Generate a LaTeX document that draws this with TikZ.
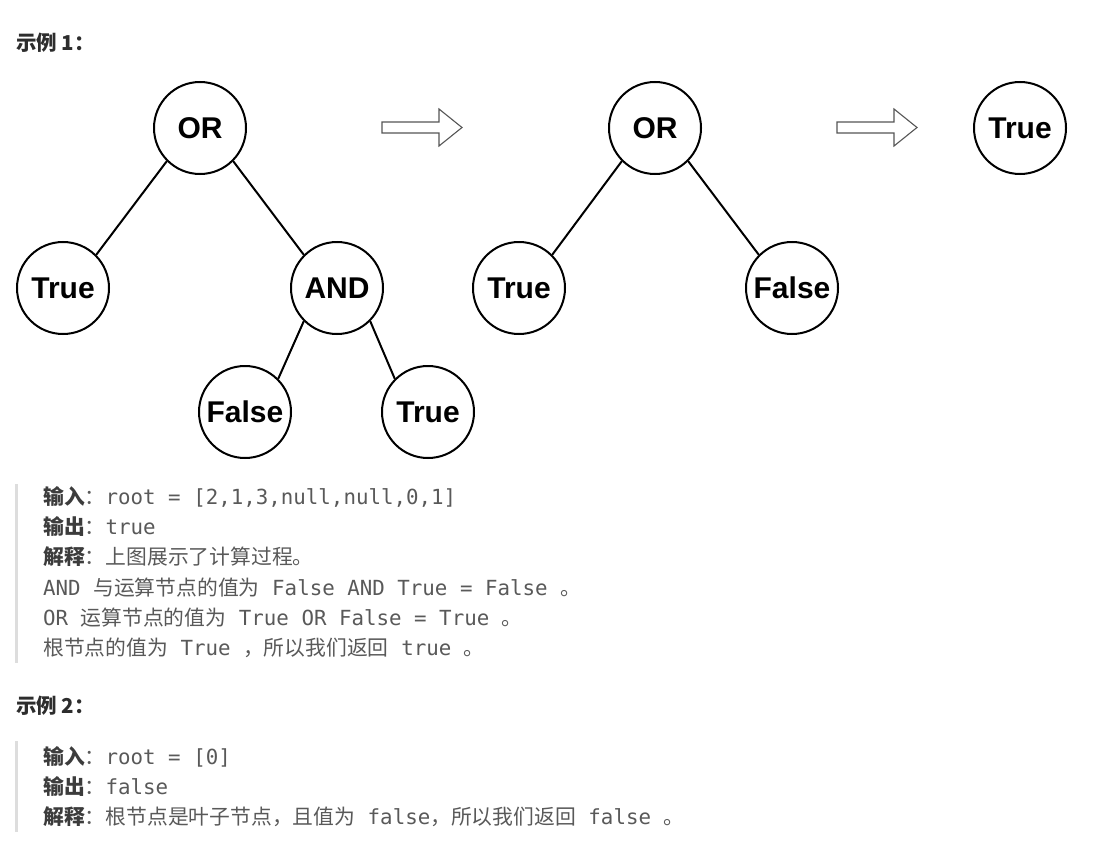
\documentclass[tikz,border=0pt]{standalone}
\usepackage{fontspec}
\setmainfont{Liberation Sans}
\newfontfamily\nodefont{Liberation Sans}
\newfontfamily\cjk{Noto Sans CJK SC}
\newfontfamily\mono{DejaVu Sans Mono}
\definecolor{txt}{RGB}{89,89,89}
\definecolor{lblc}{RGB}{60,60,60}
\definecolor{headc}{RGB}{45,45,45}
\definecolor{barc}{RGB}{221,221,221}
\definecolor{arrc}{RGB}{85,85,85}
\newcommand\zhb[1]{{\cjk\bfseries\color{lblc}#1}}
\newcommand\zh[1]{{\cjk\color{txt}#1}}
\newcommand\mn[1]{{\mono\color{txt}#1}}
\tikzset{
  tnode/.style={circle,draw,line width=2pt,minimum size=92pt,inner sep=0pt,
    font=\nodefont\bfseries\fontsize{30}{30}\selectfont},
  tedge/.style={line width=2pt},
  line/.style={anchor=base west,inner sep=0pt,font=\fontsize{20.8}{24}\selectfont},
  head/.style={anchor=base west,inner sep=0pt,text=headc,font=\cjk\bfseries\fontsize{20.5}{24}\selectfont},
  blockarrow/.pic={\draw[arrc,line width=1.1pt,fill=white,line join=miter]
     (0,-5.5) -- (57,-5.5) -- (57,-18.5) -- (80,0) -- (57,18.5) -- (57,5.5) -- (0,5.5) -- cycle;}
}
\begin{document}
\begin{tikzpicture}[x=1pt,y=-1pt]
\useasboundingbox (0,0) rectangle (1099,845);
% headings
\node[head] (h1) at (16,51) {示例 1：};
\node[head] (h2) at (16,713) {示例 2：};
% tree 1
\node[tnode] (or1) at (200,128) {OR};
\node[tnode] (t1) at (63,288) {True};
\node[tnode] (and1) at (337,288) {AND};
\node[tnode] (f1) at (245,412) {False};
\node[tnode] (t2) at (428,412) {True};
\draw[tedge] (or1.south west) -- (t1.north east);
\draw[tedge] (or1.south east) -- (and1.north west);
\draw[tedge] (and1.south west) -- (f1.north east);
\draw[tedge] (and1.south east) -- (t2.north west);
% tree 2
\node[tnode] (or2) at (655,128) {OR};
\node[tnode] (t3) at (519,288) {True};
\node[tnode] (f2) at (792,288) {False};
\draw[tedge] (or2.south west) -- (t3.north east);
\draw[tedge] (or2.south east) -- (f2.north west);
% result
\node[tnode] (t4) at (1020,128) {True};
% arrows
\pic at (382,127.5) {blockarrow};
\pic at (837,127.5) {blockarrow};
% quote bars
\fill[barc] (15,484) rectangle (18,663);
\fill[barc] (15,741) rectangle (18,832);
% example 1 text
\node[line] (l1) at (43,504) {\zhb{输入}\zh{：}\mn{root = [2,1,3,null,null,0,1]}};
\node[line] (l2) at (43,534) {\zhb{输出}\zh{：}\mn{true}};
\node[line] (l3) at (43,564) {\zhb{解释}\zh{：上图展示了计算过程。}};
\node[line] (l4) at (43,595) {\mn{AND }\zh{与运算节点的值为}\mn{\ False AND True = False }\zh{。}};
\node[line] (l5) at (43,625) {\mn{OR }\zh{运算节点的值为}\mn{\ True OR False = True }\zh{。}};
\node[line] (l6) at (43,655) {\zh{根节点的值为}\mn{\ True }\zh{，所以我们返回}\mn{\ true }\zh{。}};
% example 2 text
\node[line] (m1) at (43,764) {\zhb{输入}\zh{：}\mn{root = [0]}};
\node[line] (m2) at (43,794) {\zhb{输出}\zh{：}\mn{false}};
\node[line] (m3) at (43,824) {\zhb{解释}\zh{：根节点是叶子节点，且值为}\mn{\ false}\zh{，所以我们返回}\mn{\ false }\zh{。}};
\end{tikzpicture}
\end{document}
